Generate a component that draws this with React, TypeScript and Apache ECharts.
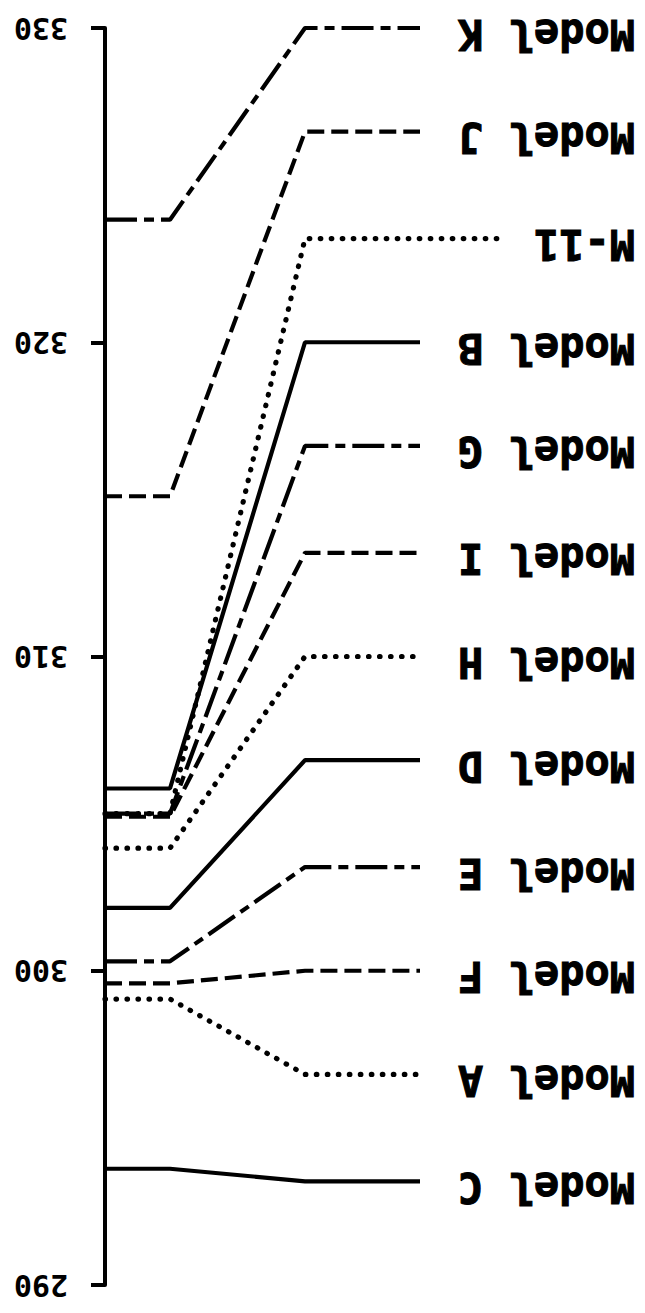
import React, { useEffect, useRef } from 'react';
import * as echarts from 'echarts';

const seriesNames = ['Model K', 'Model J', 'M-11', 'Model B', 'Model G', 'Model I', 'Model H', 'Model D', 'Model E', 'Model F', 'Model A', 'Model C'];
const startValues = [323.9, 315.1, 305.0, 305.8, 305.0, 304.9, 303.9, 302.0, 300.3, 299.6, 299.1, 293.7];
const endValues = [330, 326.7, 323.3, 320, 316.7, 313.3, 310, 306.7, 303.3, 300, 296.7, 293.3];
const lineKinds = ['dashdot', 'dashed', 'dotted', 'solid', 'dashdot', 'dashed', 'dotted', 'solid', 'dashdot', 'dashed', 'dotted', 'solid'];
const knotX = [0, 65, 200, 315];
const longEndX: Record<string, number> = { 'M-11': 395 };
const yMin = 290;
const yMax = 330;
const yStep = 10;

function lineStyleFor(kind: string): any {
  switch (kind) {
    case 'dashed':
      return { type: [17, 7], width: 4.2, color: '#000' };
    case 'dotted':
      return { type: [0.5, 10.5], width: 5.2, cap: 'round', color: '#000' };
    case 'dashdot':
      return { type: [32, 7, 10, 7], width: 4.2, color: '#000' };
    default:
      return { type: 'solid', width: 4.2, color: '#000' };
  }
}

export default function App() {
  const ref = useRef<HTMLDivElement>(null);
  useEffect(() => {
    if (!ref.current) return;
    const chart = echarts.init(ref.current, null, { renderer: 'svg' });
    const series = seriesNames.map((name, i) => {
      const endX = longEndX[name] ?? knotX[3];
      return {
        name,
        type: 'line',
        symbol: 'none',
        lineStyle: lineStyleFor(lineKinds[i]),
        data: [
          [knotX[0], startValues[i]],
          [knotX[1], startValues[i]],
          [knotX[2], endValues[i]],
          [endX, endValues[i]],
        ],
      };
    });
    chart.setOption({
      animation: false,
      backgroundColor: '#fff',
      grid: { left: 105, right: 0, top: 28, bottom: 28 },
      xAxis: { type: 'value', min: 0, max: 540, show: false },
      yAxis: {
        type: 'value',
        min: yMin,
        max: yMax,
        interval: yStep,
        axisLine: { show: true, lineStyle: { color: '#000', width: 4 } },
        axisTick: { show: true, length: 14, lineStyle: { color: '#000', width: 4 } },
        splitLine: { show: false },
        axisLabel: {
          rotate: 180,
          align: 'left',
          verticalAlign: 'middle',
          margin: 37,
          padding: [0, 0, 6, 0],
          color: '#000',
          fontFamily: 'DejaVu Sans Mono',
          fontWeight: 'bold',
          fontSize: 30,
        },
      },
      series,
    });
    const graphics = seriesNames.map((name, i) => {
      const y = chart.convertToPixel({ yAxisIndex: 0 }, endValues[i]) as number;
      return {
        type: 'text',
        x: 635,
        y: y + 6,
        rotation: Math.PI,
        style: {
          text: name,
          fill: '#000',
          font: 'bold 42px "DejaVu Sans Mono"',
          align: 'left',
          verticalAlign: 'middle',
          stroke: '#000',
          lineWidth: 1,
        },
      };
    });
    chart.setOption({ graphic: graphics });
    return () => chart.dispose();
  }, []);
  return <div ref={ref} style={{ position: 'fixed', left: 0, top: 0, width: 645, height: 1313 }} />;
}
